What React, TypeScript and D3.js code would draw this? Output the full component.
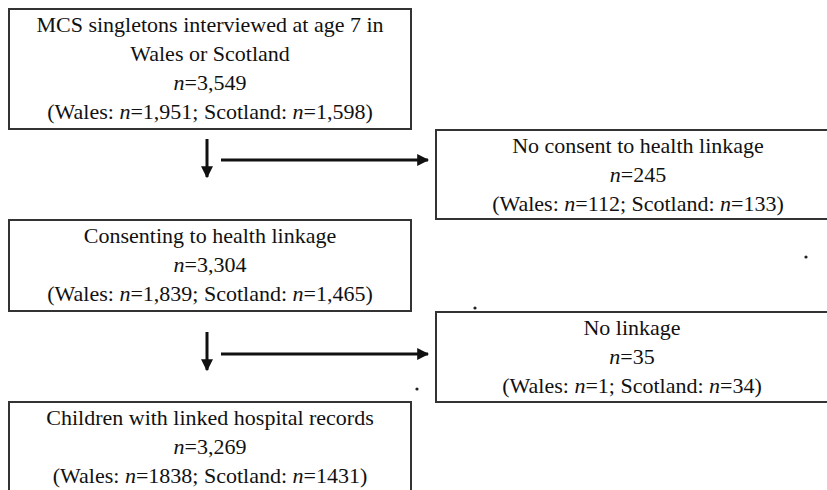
import * as d3 from "d3";
import { useEffect, useRef } from "react";

// flow boxes, main column then exclusions
const mainTitles = [
  ["MCS singletons interviewed at age 7 in", "Wales or Scotland"],
  ["Consenting to health linkage"],
  ["Children with linked hospital records"],
];
const mainTotals = ["3,549", "3,304", "3,269"];
const mainWales = ["1,951", "1,839", "1838"];
const mainScotland = ["1,598", "1,465", "1431"];

const exclTitles = ["No consent to health linkage", "No linkage"];
const exclTotals = ["245", "35"];
const exclWales = ["112", "1"];
const exclScotland = ["133", "34"];

// layout
const W = 827;
const H = 490;
const mainBoxes = [
  { x: 9, y: 9, w: 402, h: 120 },
  { x: 9, y: 220, w: 402, h: 91 },
  { x: 9, y: 402, w: 402, h: 100 },
];
const exclBoxes = [
  { x: 436, y: 130, w: 404, h: 89 },
  { x: 436, y: 312, w: 392, h: 90 },
];
const arrowRows = [
  { top: 139, tip: 177, across: 160 },
  { top: 332, tip: 370, across: 354 },
];
const specks = [
  [806, 257],
  [475, 308],
  [417, 389],
];

type Line = { text: string } | { wales: string; scot: string };

function App() {
  const ref = useRef<SVGSVGElement>(null);

  useEffect(() => {
    const svg = d3.select(ref.current);
    svg.selectAll("*").remove();

    svg
      .append("defs")
      .append("marker")
      .attr("id", "head")
      .attr("viewBox", "0 0 10 10")
      .attr("refX", 9)
      .attr("refY", 5)
      .attr("markerWidth", 4)
      .attr("markerHeight", 4)
      .attr("markerUnits", "strokeWidth")
      .attr("orient", "auto")
      .append("path")
      .attr("d", "M0,0L10,5L0,10Z")
      .attr("fill", "#111");

    const lineGap = 29;
    const font = "'Liberation Serif', 'Times New Roman', serif";

    const addText = (g: any, b: any, idx: number) =>
      g
        .append("text")
        .attr("x", b.x + b.w / 2)
        .attr("y", b.y + 22.5 + idx * lineGap)
        .attr("text-anchor", "middle")
        .attr("font-family", font)
        .attr("font-size", 22)
        .attr("fill", "#111");

    const drawBox = (b: any, lines: Line[], totalIdx: number, total: string) => {
      const g = svg.append("g");
      g.append("rect")
        .attr("x", b.x)
        .attr("y", b.y)
        .attr("width", b.w)
        .attr("height", b.h)
        .attr("fill", "#fff")
        .attr("stroke", "#333")
        .attr("stroke-width", 2);
      lines.forEach((ln, i) => {
        const t = addText(g, b, i >= totalIdx ? i + 1 : i);
        if ("text" in ln) {
          t.text(ln.text);
        } else {
          t.append("tspan").text("(Wales: ");
          t.append("tspan").attr("font-style", "italic").text("n");
          t.append("tspan").text("=" + ln.wales + "; Scotland: ");
          t.append("tspan").attr("font-style", "italic").text("n");
          t.append("tspan").text("=" + ln.scot + ")");
        }
      });
      const tt = addText(g, b, totalIdx);
      tt.append("tspan").attr("font-style", "italic").text("n");
      tt.append("tspan").text("=" + total);
    };

    mainTitles.forEach((title, i) => {
      const lines: Line[] = title.map((s) => ({ text: s }));
      drawBox(
        mainBoxes[i],
        [...lines, { wales: mainWales[i], scot: mainScotland[i] }],
        title.length,
        mainTotals[i]
      );
    });

    exclTitles.forEach((title, i) => {
      drawBox(
        exclBoxes[i],
        [{ text: title }, { wales: exclWales[i], scot: exclScotland[i] }],
        1,
        exclTotals[i]
      );
    });

    // arrows: down the main column and across to the exclusions
    const arrows = svg.append("g").attr("stroke", "#111").attr("stroke-width", 3);
    arrowRows.forEach((r, i) => {
      arrows
        .append("line")
        .attr("x1", 207)
        .attr("x2", 207)
        .attr("y1", r.top)
        .attr("y2", r.tip)
        .attr("marker-end", "url(#head)");
      arrows
        .append("line")
        .attr("x1", 221)
        .attr("x2", exclBoxes[i].x - 8)
        .attr("y1", r.across)
        .attr("y2", r.across)
        .attr("marker-end", "url(#head)");
    });

    svg
      .append("g")
      .selectAll("circle")
      .data(specks)
      .join("circle")
      .attr("cx", (d) => d[0])
      .attr("cy", (d) => d[1])
      .attr("r", 1.6)
      .attr("fill", "#222");
  }, []);

  return (
    <svg
      ref={ref}
      width={W}
      height={H}
      style={{ position: "absolute", left: 0, top: 0, background: "#fff" }}
    />
  );
}

export default App;
